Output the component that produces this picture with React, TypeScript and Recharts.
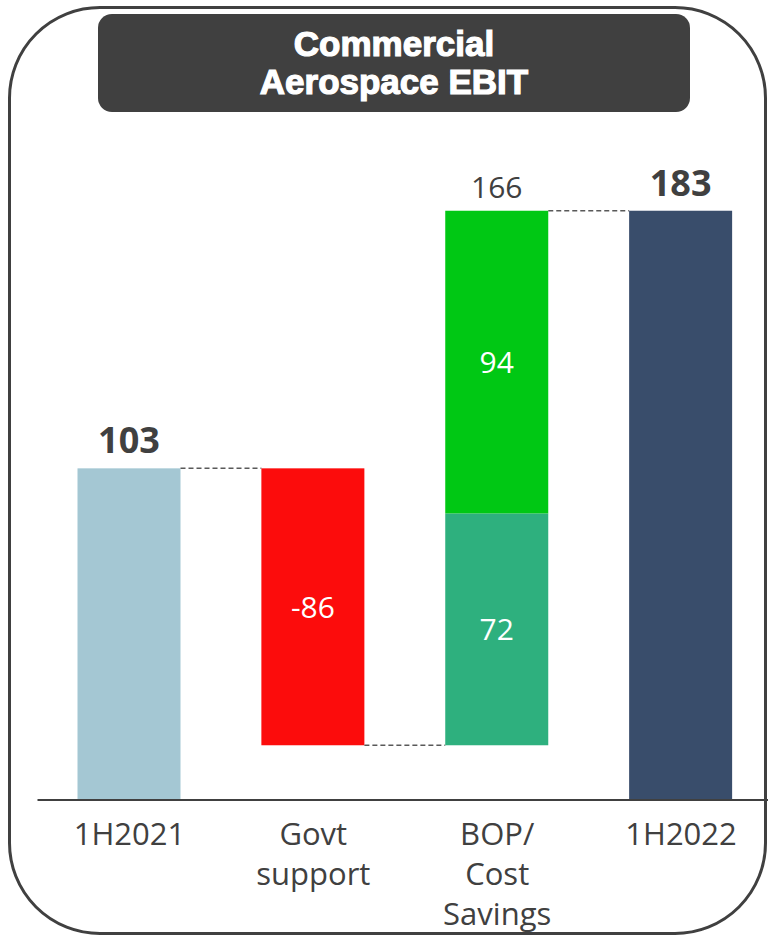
import React from "react";
import { BarChart, Bar, XAxis, YAxis, LabelList } from "recharts";

// ---- data ----
const categories = ["1H2021", "Govt\nsupport", "BOP/\nCost\nSavings", "1H2022"];
const baseValues = [0, 17, 17, 0];
const mainValues = [103, 86, 72, 183];
const extraValues = [0, 0, 94, 0];
const mainLabels = ["103", "-86", "72", "183"];
const mainLabelPos = ["above", "inside", "inside", "above"];
const extraLabels = ["", "", "94", ""];
const stackTotalLabels = ["", "", "166", ""];
const mainColors = ["#A4C7D3", "#FC0C0C", "#2EB07E", "#394D6B"];
const extraColor = "#00C814";
const mainLinks = ["top", "bottom", "", ""];
const extraLinks = ["", "", "top", ""];

const data = categories.map((name, i) => ({
  name,
  base: baseValues[i],
  main: mainValues[i],
  extra: extraValues[i],
}));

// ---- layout ----
const W = 780;
const H = 936;
const M = { top: 156, right: 7, bottom: 0, left: 37.5 };
const PLOT_W = W - M.left - M.right;
const BAND = PLOT_W / categories.length;
const TEXT = "#404040";
const FONT = "'Open Sans', 'Noto Sans', sans-serif";

const makeShape = (colors: (i: number) => string, links: string[]) => (props: any) => {
  const { x, y, width, height, index } = props;
  if (!height || height <= 0) return <g />;
  const link = links[index];
  const gap = BAND - width;
  let ly: number | null = null;
  if (link === "top") ly = y;
  if (link === "bottom") ly = y + height;
  return (
    <g>
      <rect x={x} y={y} width={width} height={height} fill={colors(index)} />
      {ly !== null && (
        <line
          x1={x + width}
          x2={x + width + gap}
          y1={ly}
          y2={ly}
          stroke="#595959"
          strokeWidth={1.5}
          strokeDasharray="5 3"
        />
      )}
    </g>
  );
};

const mainShape = makeShape((i) => mainColors[i], mainLinks);
const extraShape = makeShape(() => extraColor, extraLinks);

const mainLabelContent = (props: any) => {
  const { x, y, width, height, index } = props;
  const cx = x + width / 2;
  if (mainLabelPos[index] === "above") {
    return (
      <text x={cx} y={y - 15} textAnchor="middle" fill={TEXT} fontFamily={FONT} fontWeight={700} fontSize={36}>
        {mainLabels[index]}
      </text>
    );
  }
  return (
    <text x={cx} y={y + height / 2} dy={11} textAnchor="middle" fill="#ffffff" fontFamily={FONT} fontSize={30}>
      {mainLabels[index]}
    </text>
  );
};

const extraLabelContent = (props: any) => {
  const { x, y, width, height, index } = props;
  if (!extraLabels[index]) return <g />;
  const cx = x + width / 2;
  return (
    <g>
      <text x={cx} y={y + height / 2} dy={11} textAnchor="middle" fill="#ffffff" fontFamily={FONT} fontSize={30}>
        {extraLabels[index]}
      </text>
      <text x={cx} y={y - 13} textAnchor="middle" fill={TEXT} fontFamily={FONT} fontSize={30}>
        {stackTotalLabels[index]}
      </text>
    </g>
  );
};

const CategoryTick = (props: any) => {
  const { x, y, payload } = props;
  const lines = String(payload.value).split("\n");
  return (
    <text x={x} y={y} textAnchor="middle" fill={TEXT} fontFamily={FONT} fontSize={31}>
      {lines.map((l, i) => (
        <tspan key={i} x={x} dy={i === 0 ? 37 : 40}>
          {l}
        </tspan>
      ))}
    </text>
  );
};

export default function App() {
  return (
    <div
      style={{
        position: "fixed",
        left: 0,
        top: 0,
        width: 768,
        height: 936,
        overflow: "hidden",
        background: "#ffffff",
      }}
    >
      <div
        style={{
          position: "absolute",
          left: 8,
          top: 6,
          width: 759,
          height: 929,
          boxSizing: "border-box",
          border: "3px solid #404040",
          borderRadius: 92,
        }}
      />
      <div style={{ position: "absolute", left: 0, top: 0 }}>
        <BarChart width={W} height={H} data={data} margin={M} barSize={103}>
          <XAxis
            dataKey="name"
            interval={0}
            tickLine={false}
            axisLine={{ stroke: TEXT, strokeWidth: 2 }}
            height={136}
            tick={<CategoryTick />}
          />
          <YAxis hide domain={[0, 200]} />
          <Bar dataKey="base" stackId="a" fill="transparent" isAnimationActive={false} />
          <Bar dataKey="main" stackId="a" shape={mainShape} isAnimationActive={false}>
            <LabelList dataKey="main" content={mainLabelContent} />
          </Bar>
          <Bar dataKey="extra" stackId="a" shape={extraShape} isAnimationActive={false}>
            <LabelList dataKey="extra" content={extraLabelContent} />
          </Bar>
        </BarChart>
      </div>
      <div
        style={{
          position: "absolute",
          left: 98,
          top: 14,
          width: 592,
          height: 98,
          background: "#404040",
          borderRadius: 14,
          display: "flex",
          flexDirection: "column",
          alignItems: "center",
          justifyContent: "center",
          color: "#ffffff",
          fontFamily: "'Liberation Sans', Arial, sans-serif",
          fontWeight: 700,
          fontSize: 35,
          lineHeight: "38px",
          WebkitTextStroke: "1.2px #ffffff",
          textAlign: "center",
        }}
      >
        <div>Commercial</div>
        <div>Aerospace EBIT</div>
      </div>
    </div>
  );
}
